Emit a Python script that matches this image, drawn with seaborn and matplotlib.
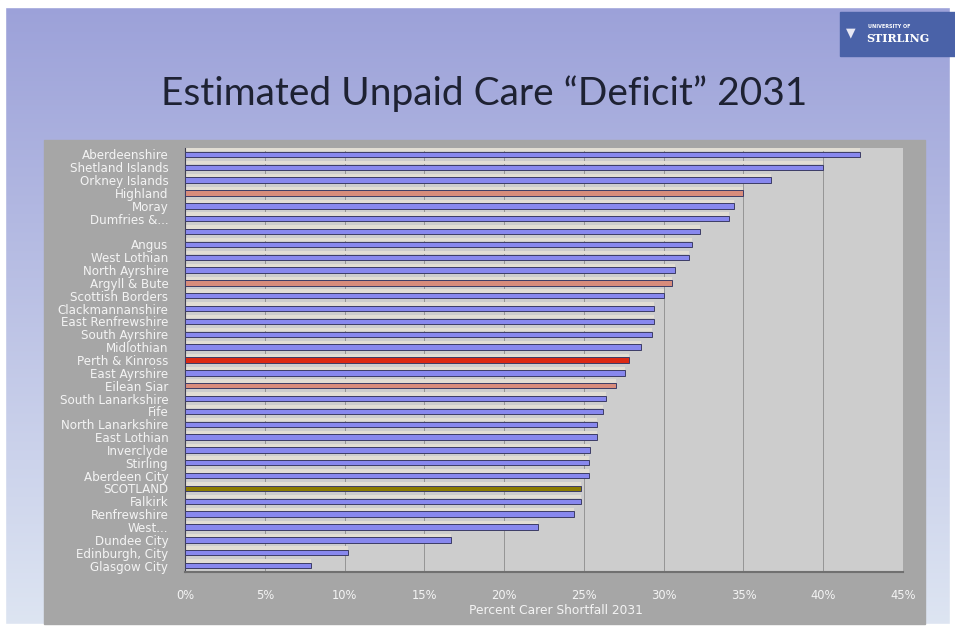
import numpy as np
import pandas as pd
import matplotlib.pyplot as plt
from matplotlib.patches import Rectangle
import seaborn as sns

# council areas, top to bottom as on the slide
areas = ["Aberdeenshire", "Shetland Islands", "Orkney Islands", "Highland", "Moray",
         "Dumfries &...", "", "Angus", "West Lothian", "North Ayrshire", "Argyll & Bute",
         "Scottish Borders", "Clackmannanshire", "East Renfrewshire", "South Ayrshire",
         "Midlothian", "Perth & Kinross", "East Ayrshire", "Eilean Siar",
         "South Lanarkshire", "Fife", "North Lanarkshire", "East Lothian", "Inverclyde",
         "Stirling", "Aberdeen City", "SCOTLAND", "Falkirk", "Renfrewshire", "West...",
         "Dundee City", "Edinburgh, City", "Glasgow City"]
shortfall = [42.3, 40.0, 36.7, 35.0, 34.4, 34.1, 32.3, 31.8, 31.6, 30.7, 30.5,
             30.0, 29.4, 29.4, 29.3, 28.6, 27.8, 27.6, 27.0, 26.4, 26.2, 25.8,
             25.8, 25.4, 25.3, 25.3, 24.8, 24.8, 24.4, 22.1, 16.7, 10.2, 7.9]

# highlighted rows
rural = ["Highland", "Argyll & Bute", "Eilean Siar"]
xticks = [0, 5, 10, 15, 20, 25, 30, 35, 40, 45]

colours = {}
for a in areas:
    if a == "Perth & Kinross":
        colours[a] = "#dc2a14"
    elif a == "SCOTLAND":
        colours[a] = "#8c7c00"
    elif a in rural:
        colours[a] = "#d88c7c"
    else:
        colours[a] = "#8888ee"

df = pd.DataFrame({"area": areas, "pct": shortfall})

W, H = 955, 630
fig = plt.figure(figsize=(W / 100, H / 100), dpi=100)

# slide background gradient
bg = fig.add_axes([0, 0, 1, 1], zorder=-10)
grad = np.linspace(0, 1, 256).reshape(-1, 1)
top = np.array([0.61, 0.63, 0.85])
bot = np.array([0.87, 0.90, 0.95])
img = top + (bot - top) * grad[:, :, None]
bg.imshow(img, aspect="auto", extent=[0, 1, 0, 1])
bg.add_patch(Rectangle((0, 1 - 7 / H), 1, 7 / H, color="white"))
bg.add_patch(Rectangle((0, 0), 1, 6 / H, color="white"))
bg.add_patch(Rectangle((0, 0), 5 / W, 1, color="white"))
bg.add_patch(Rectangle((950 / W, 0), 5 / W, 1, color="white"))
# grey chart panel
bg.add_patch(Rectangle((44 / W, 1 - 624 / H), (925 - 44) / W, (624 - 140) / H,
                       color="#a6a6a6"))
# logo block
bg.add_patch(Rectangle((840 / W, 1 - 56 / H), 115 / W, 44 / H, color="#4a62a8"))
bg.set_xlim(0, 1)
bg.set_ylim(0, 1)
bg.axis("off")

fig.text(484 / W, 1 - 94 / H, "Estimated Unpaid Care \u201cDeficit\u201d 2031",
         ha="center", va="center", fontsize=28, color="#1e2233", family="Lato")
fig.text(868 / W, 1 - 26 / H, "UNIVERSITY OF", fontsize=3.5, color="white",
         weight="bold", va="center")
fig.text(866 / W, 1 - 39 / H, "STIRLING", fontsize=8, color="white",
         weight="bold", va="center", family="DejaVu Serif")
fig.text(851 / W, 1 - 33 / H, "\u25bc", fontsize=9, color="#e8e8f4",
         ha="center", va="center")

ax = fig.add_axes([185 / W, 1 - 572 / H, (903 - 185) / W, (572 - 148) / H])
ax.set_facecolor("#cdcdcd")
sns.barplot(data=df, x="pct", y="area", hue="area", palette=colours,
            saturation=1, legend=False, orient="h", width=0.42,
            edgecolor="#3c3c66", linewidth=0.7, ax=ax, zorder=3)

# pale top band on each bar (the slide's 3-D look)
for p in list(ax.patches):
    ax.add_patch(Rectangle((p.get_x(), p.get_y() - 0.28), p.get_width(), 0.26,
                           facecolor="#e2ded4", edgecolor="none", zorder=2))

ax.set_xlim(0, 45)
ax.set_xticks(xticks)
ax.set_xticklabels([f"{t}%" for t in xticks])
ax.grid(axis="x", color="#8c8c8c", linewidth=0.6, zorder=0)
ax.set_axisbelow(True)
for s in ["top", "right"]:
    ax.spines[s].set_visible(False)
ax.spines["left"].set_color("#404050")
ax.spines["bottom"].set_color("#707070")
ax.spines["bottom"].set_linewidth(1.5)
ax.tick_params(axis="y", length=0, labelsize=8.6, labelcolor="#f4f4f4", pad=12)
ax.tick_params(axis="x", length=0, labelsize=8.3, labelcolor="#f4f4f4", pad=12)
ax.set_ylabel("")
ax.set_xlabel("Percent Carer Shortfall 2031", fontsize=8.8, color="#f4f4f4",
              labelpad=0)
ax.xaxis.set_label_coords(0.517, -0.075)

fig.savefig("out.png", dpi=100)
